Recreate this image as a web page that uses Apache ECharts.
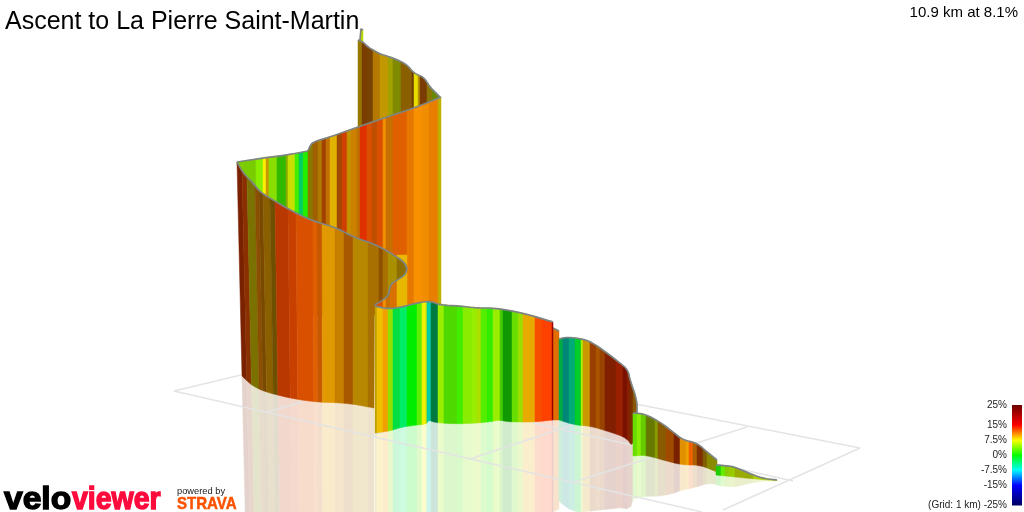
<!DOCTYPE html>
<html>
<head>
<meta charset="utf-8">
<style>html,body{margin:0;padding:0;background:#fff}#c{width:1024px;height:512px}</style>
<script src="https://cdn.jsdelivr.net/npm/echarts@6/dist/echarts.min.js"></script>
</head>
<body>
<div id="c"></div>
<script>
// ---------- legend ----------
const legendLevels = [25, 15, 7.5, 0, -7.5, -15, -25];
const legendColors = [[107,0,0],[255,0,0],[255,255,0],[0,255,0],[0,255,255],[0,0,255],[0,0,96]];

// ---------- ground grid (1 km squares, as seen in perspective) ----------
const gridSegments = [
  [[174,391],[241,375]], [[174,391],[702,512]], [[267,412],[302,402]], [[373,435],[385,431]],
  [[470,459],[638,403]], [[533,423],[793,481]], [[600,397],[860,448]],
  [[747,427],[571,483]], [[860,448],[723,510]]
];

// ---------- ribbon sections: stations (strip limits), gradient %, lighting, edges ----------
const spikeStations = [360,363];
const spikeGrades = [6.5];
const spikeLight = [0.85];
const spikeTop = [[360,40],[361,29],[363,30]];
const spikeBottom = [[360,50],[363,50]];

const backStations = [358,362,367,373,380,388,393,401,412,414,418,420,427,432,440];
const backGrades = [9.1,11.2,10.8,9.9,9.1,7.5,6.9,9.8,10.8,7.7,9.1,11.3,8.6,5.8];
const backLight = [.6,.48,.47,.7,.76,.63,.54,.54,.43,.9,.72,.48,.54,.53];
const backTop = [[358,40],[363,42],[368,47],[373,50],[380,54],[387,56],[395,59],[402,62],[408,66],[413,72],[418,75],[423,77],[427,82],[430,87],[435,92],[440,97]];
const backBottom = [[358,140],[440,140]];

const innerStations = [237,245,256,263,266,269,277,286,288,295,299,303,308];
const innerGrades = [4.6,4.4,4.3,8,9.1,4.6,2,6,6.7,2.1,-3.75,1.1];
const innerLight = [.8,.8,.93,1,.77,.87,.73,.67,.88,.93,.8,.93];
const innerTop = [[237,162],[263,158],[287,155],[308,151]];
const innerBottom = [[237,165],[253,190],[308,240]];

const wallStations = [308,313,318,322,326,330,337,342,347,351,357,360,367,372,377,383,386,393,407,414,422,429,438,441];
const wallGrades = [8.5,10.5,9.8,12,10.6,9.1,11.6,12.7,9.5,10.3,10.6,13.4,12.2,11.9,12.2,10.5,10.8,11.8,11.1,10.6,10.6,10.9,8.1];
const wallLight = [.54,.63,.69,.63,.75,.88,.63,.82,.77,.8,.75,.88,.85,.75,.85,.94,.78,.88,.91,.97,.94,.91,.75];
const wallTop = [[308,151],[310,146],[313,142],[330,137],[358,127],[387,117],[417,107],[441,97]];
const wallBottom = [[308,315],[441,315]];

const foldStations = [390,397,407];
const foldGrades = [11.1,9.1];
const foldLight = [.85,.91];
const foldTop = [[390,255],[407,255]];
const foldBottom = [[390,315],[407,315]];

const frontStations = [237,242,247,255,259,263,270,275,288,296,313,317,322,335,344,353,368,379,383,388,397,407];
const frontGrades = [13,12.4,8.1,10.7,10.5,9.8,9.5,12.7,12.6,12.2,11.8,11.7,9.9,10.2,11.1,9.5,10,10.8,10,8.6,9.2];
const frontLight = [.48,.54,.48,.54,.48,.54,.43,.72,.78,.85,.88,.78,.88,.78,.66,.72,.66,.56,.66,.66,.56];
const frontTop = [[237,162],[243,173],[253,183],[260,192],[273,200],[290,210],[310,220],[337,228],[353,237],[377,245],[397,257],[405,263],[407,269]];
const frontFloor = [[237,376],[248,386],[262,392],[287,398],[313,402],[347,403],[374,408]];
const frontCurl = [[374.5,305],[383,300],[389,295],[390,285],[397,280],[405,275],[407,269]];

const greenStations = [375,377,383,388,393,400,407,417,422,426,427,431,438,444,457,463,472,477,481,487,493,500,503,512,518,523,535,542,552,553];
const greenGrades = [8.7,9,10,4.8,-2.3,-3.2,0,3,7.5,6.4,-6.2,-3.9,4.8,2.7,2.1,4.3,4.8,5.7,2.7,1.6,4.8,2.5,.8,3.5,5.2,9.5,12.6,13.1,15];
const greenLight = [.75,.94,.94,.88,.87,.93,.93,.93,.94,.88,.8,.48,.93,.85,.93,.93,.93,.88,.93,.93,.93,.8,.6,.87,.87,.91,.97,1,.6];
const greenTop = [[375,306],[388,309],[402,307],[417,303],[430,301],[440,305],[460,306],[477,308],[495,308],[523,313],[553,322]];
const greenBottom = [[375,433],[390,431],[402,427],[417,425],[427,424],[428,420],[437,423],[463,424],[490,422],[498,420],[510,422],[535,422],[553,420]];

const linkStations = [553,559];
const linkGrades = [11.3];
const linkLight = [.88];
const linkTop = [[553,328],[559,331]];
const linkBottom = [[553,420],[559,420]];

const ridgeStations = [559,563,569,575,581,583,590,596,600,605,616,623,627,630,633,637];
const ridgeGrades = [-3,-6.6,-5.3,-1.5,5.4,9.4,11.9,11.3,11.7,13.1,13.4,14,13.2,12,10.4];
const ridgeLight = [.67,.53,.67,.8,.93,.8,.6,.67,.6,.5,.6,.48,.53,.48,.54];
const ridgeTop = [[559,339],[567,337],[583,339],[593,343],[607,353],[620,363],[628,370],[630,380],[637,400],[637,414]];
const ridgeBottom = [[559,420],[575,425],[590,426],[610,432],[627,438],[633,448],[637,416]];

const lowStations = [633,637,641,646,655,658,666,674,680,686,689,693,697,703,707,717];
const lowGrades = [3.5,4.3,3.75,6.3,6.7,10.1,11.5,13,10.2,10,12,10.8,12.2,9.4,7.5];
const lowLight = [.87,.93,.8,.48,.6,.54,.63,.48,.88,.94,.94,.67,.5,.5,.54];
const lowTop = [[633,413],[645,414],[660,422],[673,432],[683,440],[697,443],[707,452],[717,460]];
const lowBottom = [[633,456],[645,455],[663,460],[682,465],[700,465],[717,472]];

const tailStations = [716,721,725,729,735,753,777];
const tailGrades = [1.25,3.2,5,5.6,6.75,6.25];
const tailLight = [.8,.93,.8,.8,.67,.8];
const tailTop = [[716,465],[728,466],[735,467],[760,478],[777,480]];
const tailBottom = [[716,475],[735,477],[760,479.5],[777,480.5]];

// ---------- drawing of a smooth ribbon edge through its read points (corner cutting) ----------
function rounded(edge) {
  let pts = edge;
  for (let n = 0; n < 2; n++) {
    const out = [pts[0]];
    for (let i = 0; i < pts.length - 1; i++) {
      const a = pts[i], b = pts[i + 1];
      out.push([a[0] * .75 + b[0] * .25, a[1] * .75 + b[1] * .25]);
      out.push([a[0] * .25 + b[0] * .75, a[1] * .25 + b[1] * .75]);
    }
    out.push(pts[pts.length - 1]);
    pts = out;
  }
  return pts;
}

// ---------- sections, back to front ----------
function section(stations, grades, light, top, bottom, opt) {
  return Object.assign({stations, grades, light, top, bottom, edge: true, lean: 0, leanTo: 0, mirrorTo: 0}, opt);
}
const curlShape = rounded(frontCurl);
const sections = [
  section(spikeStations, spikeGrades, spikeLight, spikeTop, spikeBottom),
  section(backStations, backGrades, backLight, rounded(backTop), backBottom),
  section(innerStations, innerGrades, innerLight, rounded(innerTop), innerBottom),
  section(wallStations, wallGrades, wallLight, rounded(wallTop), wallBottom),
  section(foldStations, foldGrades, foldLight, foldTop, foldBottom, {edge: false}),
  section(frontStations, frontGrades, frontLight, rounded(frontTop), rounded(frontFloor).concat(curlShape), {extra: curlShape, lean: 5, leanTo: 330, mirrorTo: 374}),
  section(linkStations, linkGrades, linkLight, linkTop, linkBottom, {mirrorTo: 559}),
  section(greenStations, greenGrades, greenLight, rounded(greenTop), rounded(greenBottom), {mirrorTo: 553}),
  section(ridgeStations, ridgeGrades, ridgeLight, rounded(ridgeTop), rounded(ridgeBottom), {mirrorTo: 633}),
  section(lowStations, lowGrades, lowLight, rounded(lowTop), rounded(lowBottom), {mirrorTo: 717}),
  section(tailStations, tailGrades, tailLight, rounded(tailTop), rounded(tailBottom), {mirrorTo: 777})
];

// ---------- helpers ----------
function gradeRGB(g) {
  const L = legendLevels, C = legendColors;
  g = Math.max(-25, Math.min(25, g));
  for (let i = 0; i < L.length - 1; i++) {
    if (g <= L[i] && g >= L[i + 1]) {
      const t = (L[i] - g) / (L[i] - L[i + 1]);
      return C[i].map((c, k) => c + (C[i + 1][k] - c) * t);
    }
  }
  return C[0];
}
function toCss(c) { return 'rgb(' + c.map(v => Math.round(v)).join(',') + ')'; }
function edgeY(edge, x) {
  if (x <= edge[0][0]) return edge[0][1];
  for (let i = 0; i < edge.length - 1; i++) {
    const a = edge[i], b = edge[i + 1];
    if (x <= b[0]) return b[0] === a[0] ? b[1] : a[1] + (b[1] - a[1]) * (x - a[0]) / (b[0] - a[0]);
  }
  return edge[edge.length - 1][1];
}
function edgeSpan(edge, x0, x1) {
  const out = [[x0, edgeY(edge, x0)]];
  edge.forEach(p => { if (p[0] > x0 && p[0] < x1) out.push(p); });
  out.push([x1, edgeY(edge, x1)]);
  return out;
}
function leanAt(s, x) {
  if (!s.lean || x >= s.leanTo) return 0;
  return s.lean * (s.leanTo - x) / (s.leanTo - s.stations[0]);
}

// ---------- flat draw lists ----------
const stripList = [], mirrorList = [];
sections.forEach((s, si) => {
  s.grades.forEach((g, i) => {
    stripList.push({kind: 'strip', s: si, i});
    if (s.mirrorTo && s.stations[i] < s.mirrorTo) mirrorList.push({s: si, i});
  });
  if (s.edge) stripList.push({kind: 'edge', line: s.top});
  if (s.extra) stripList.push({kind: 'edge', line: s.extra});
});

function renderStrip(params, api) {
  const d = stripList[api.value(0)];
  if (d.kind === 'edge') {
    return {type: 'polyline', shape: {points: d.line.map(p => api.coord(p))},
      style: {fill: 'none', stroke: '#7f8583', lineWidth: 1.7, lineJoin: 'round'}};
  }
  const s = sections[d.s], x0 = s.stations[d.i], x1 = s.stations[d.i + 1];
  const l = s.light[d.i];
  const col = toCss(gradeRGB(s.grades[d.i]).map(c => c * l));
  const top = edgeSpan(s.top, x0, x1);
  const bot = edgeSpan(s.bottom, x0, x1).map(p => [p[0] + leanAt(s, p[0]), p[1]]).reverse();
  return {type: 'polygon', shape: {points: top.concat(bot).map(p => api.coord(p))},
    style: {fill: col, stroke: col, lineWidth: 0.5}};
}
function renderMirror(params, api) {
  const d = mirrorList[api.value(0)];
  const s = sections[d.s], x0 = s.stations[d.i], x1 = Math.min(s.stations[d.i + 1], s.mirrorTo);
  const l = s.light[d.i];
  const col = toCss(gradeRGB(s.grades[d.i]).map(c => c * l * 0.2 + 255 * 0.8));
  const bot = edgeSpan(s.bottom, x0, x1);
  const upper = bot.map(p => [p[0] + leanAt(s, p[0]), p[1]]);
  const lower = bot.map(p => [p[0] + 2 * leanAt(s, p[0]), 2 * p[1] - edgeY(s.top, p[0])]).reverse();
  return {type: 'polygon', shape: {points: upper.concat(lower).map(p => api.coord(p))},
    style: {fill: col, stroke: col, lineWidth: 0.5}};
}
function renderGrid(params, api) {
  const seg = gridSegments[api.value(0)];
  return {type: 'line', shape: {x1: api.coord(seg[0])[0], y1: api.coord(seg[0])[1], x2: api.coord(seg[1])[0], y2: api.coord(seg[1])[1]},
    style: {stroke: '#e4e4e4', lineWidth: 1.5}};
}
function renderBar(params, api) {
  const i = api.value(0);
  const a = api.coord([0, legendLevels[i]]), b = api.coord([1, legendLevels[i + 1]]);
  return {type: 'rect', shape: {x: a[0], y: a[1], width: b[0] - a[0], height: b[1] - a[1] + 0.5},
    style: {fill: {type: 'linear', x: 0, y: 0, x2: 0, y2: 1, colorStops: [
      {offset: 0, color: toCss(legendColors[i])}, {offset: 1, color: toCss(legendColors[i + 1])}]}}};
}
const idx = arr => arr.map((_, i) => [i]);

const chart = echarts.init(document.getElementById('c'), null, {renderer: 'canvas'});
chart.setOption({
  animation: false,
  backgroundColor: '#ffffff',
  textStyle: {fontFamily: '"Liberation Sans", sans-serif'},
  title: [
    {text: 'Ascent to La Pierre Saint-Martin', left: 5, top: 10, padding: 0,
      textStyle: {fontFamily: '"Liberation Sans"', fontSize: 25, fontWeight: 'normal', color: '#000'}},
    {text: '10.9 km at 8.1%', right: 6, top: 5, padding: 0,
      textStyle: {fontFamily: '"Liberation Sans"', fontSize: 15, fontWeight: 'normal', color: '#000'}}
  ],
  grid: [
    {left: 0, top: 0, width: 1024, height: 512},
    {left: 1012, top: 405, width: 10, height: 100}
  ],
  xAxis: [
    {type: 'value', gridIndex: 0, min: 0, max: 1024, show: false},
    {type: 'value', gridIndex: 1, min: 0, max: 1, show: false}
  ],
  yAxis: [
    {type: 'value', gridIndex: 0, min: 0, max: 512, inverse: true, show: false},
    {type: 'value', gridIndex: 1, min: -25, max: 25, position: 'left', splitLine: {show: false},
      axisLine: {show: false}, axisTick: {show: false},
      axisLabel: {customValues: legendLevels, margin: 5, color: '#222', fontSize: 10, fontFamily: '"Liberation Sans"',
        formatter: v => (v === -25 ? '(Grid: 1 km) -25%' : v + '%')}}
  ],
  graphic: [
    {type: 'text', x: 4, y: 484, scaleX: 1.05, silent: true,
      style: {text: 'velo', fontFamily: '"Liberation Sans"', fontWeight: 'bold', fontSize: 32, fill: '#000', stroke: '#000', lineWidth: 1.4}},
    {type: 'text', x: 72, y: 484, scaleX: 0.89, silent: true,
      style: {text: 'viewer', fontFamily: '"Liberation Sans"', fontWeight: 'bold', fontSize: 32, fill: '#ff0a3c', stroke: '#ff0a3c', lineWidth: 1.4}},
    {type: 'text', x: 177, y: 487, silent: true,
      style: {text: 'powered by', fontFamily: '"Liberation Sans"', fontSize: 9.3, fill: '#222'}},
    {type: 'text', x: 177, y: 496, scaleX: 0.885, silent: true,
      style: {text: 'STRAVA', fontFamily: '"Liberation Sans"', fontWeight: 'bold', fontSize: 17, fill: '#fc5200', stroke: '#fc5200', lineWidth: 0.5}}
  ],
  series: [
    {type: 'custom', xAxisIndex: 0, yAxisIndex: 0, silent: true, z: 1, clip: false, data: idx(mirrorList), renderItem: renderMirror},
    {type: 'custom', xAxisIndex: 0, yAxisIndex: 0, silent: true, z: 2, clip: false, data: idx(gridSegments), renderItem: renderGrid},
    {type: 'custom', xAxisIndex: 0, yAxisIndex: 0, silent: true, z: 3, clip: false, data: idx(stripList), renderItem: renderStrip},
    {type: 'custom', xAxisIndex: 1, yAxisIndex: 1, silent: true, z: 3, data: idx(legendLevels.slice(1)), renderItem: renderBar}
  ]
});
</script>
</body>
</html>
